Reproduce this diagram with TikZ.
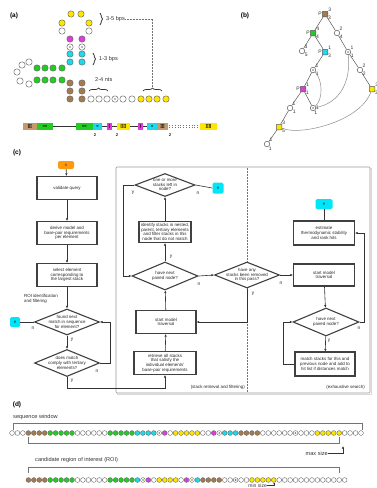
\documentclass[tikz,border=0pt]{standalone}
\usepackage{fontspec}
\setmainfont{Liberation Sans}
\usetikzlibrary{shapes.geometric,arrows.meta,decorations.pathreplacing,calc}
\definecolor{cyel}{HTML}{FFE600}
\definecolor{cmag}{HTML}{E03CDC}
\definecolor{ccya}{HTML}{1ED8EC}
\definecolor{cgrn}{HTML}{22CC22}
\definecolor{cbrn}{HTML}{A47A4E}
\definecolor{ctan}{HTML}{C49A6C}
\definecolor{corg}{HTML}{FF9A10}
\definecolor{cecy}{HTML}{00E6F8}
\begin{document}
\begin{tikzpicture}[x=1pt,y=-1pt,
  fc/.style={font=\fontsize{4.4}{4.6}\selectfont, align=center, inner sep=0pt, text=black!85},
  box/.style={fc, draw=black!75, line width=1.1pt, fill=white},
  dia/.style={diamond, draw=black!75, line width=1.1pt, fill=white, inner sep=0pt},
  startn/.style={fc, fill=corg, rounded corners=2pt, minimum width=16pt, minimum height=8pt},
  endn/.style={fc, fill=cecy, rounded corners=1.5pt, minimum width=10pt, minimum height=10pt},
  arr/.style={draw=black!80, line width=0.6pt, -{Latex[length=2.6pt,width=2.4pt]}},
  ln/.style={draw=black!80, line width=0.6pt},
  yn/.style={font=\fontsize{4.8}{5}\selectfont, inner sep=0pt, text=black!85},
  pl/.style={font=\bfseries\fontsize{6.5}{7}\selectfont, inner sep=0pt},
  an/.style={font=\fontsize{5.6}{6}\selectfont, text=black!80, inner sep=0pt},
  pd/.style={draw=black!60, line width=0.45pt},
  sd/.style={draw=black!60, line width=0.4pt},
  dw/.style={fill=white}, db/.style={fill=cbrn}, dg/.style={fill=cgrn},
  dc/.style={fill=ccya}, dm/.style={fill=cmag}, dy/.style={fill=cyel},
  dx/.style={fill=white, path picture={\fill[black!55] (path picture bounding box.center) circle (0.9pt);}},
  sb/.style={inner sep=0pt, minimum height=6.5pt, font=\bfseries\fontsize{4.2}{4.5}\selectfont},
  tw/.style={circle, draw=black!65, fill=white, line width=0.5pt, minimum size=5.5pt, inner sep=0pt},
  tx/.style={tw, path picture={\fill[black!55] (path picture bounding box.center) circle (0.8pt);}},
  tp/.style={rectangle, rounded corners=0.8pt, draw=black!65, line width=0.5pt, minimum size=5.5pt, inner sep=0pt},
  tl/.style={font=\fontsize{5}{5.2}\selectfont, inner sep=0.3pt, text=black!80, label distance=-0.3pt},
  tln/.style={draw=black!65, line width=0.5pt},
  arc/.style={draw=black!45, line width=0.5pt},
  brk/.style={draw=black!55, line width=0.6pt}
]
\useasboundingbox (0,0) rectangle (377,488);
\fill[white] (0,0) rectangle (377,488);

% ---------- panel labels
\node[pl] (la) at (14,16) {(a)};
\node[pl] (lb) at (245,16) {(b)};
\node[pl] (lc) at (17,153) {(c)};
\node[pl] (ld) at (17,405) {(d)};

% ---------- panel (a) structure
\foreach \p in {(71,14),(81,14),(62,23),(89,23),(141,99),(149,99),(157,99),(166,99)}
  \draw[pd,fill=cyel] \p circle (3.2pt);
\foreach \p in {(62,31),(89,31),(29,62),(22,65),(17,72),(20,81),(29,84),(91,99),(99,99),(107,99),(123,99),(132,99)}
  \draw[pd,fill=white] \p circle (3.2pt);
\foreach \p in {(70,39),(82,39)} \draw[pd,fill=cmag] \p circle (3.2pt);
\foreach \p in {(70,47),(82,47),(115,99)} \draw[pd,dx] \p circle (3.2pt);
\foreach \p in {(70,54),(82,54),(70,62),(82,62)} \draw[pd,fill=ccya] \p circle (3.2pt);
\foreach \p in {(37,68),(45,68),(53,68),(62,68),(37,80),(45,80),(53,80),(62,80)} \draw[pd,fill=cgrn] \p circle (3.2pt);
\foreach \p in {(70,83),(82,83),(70,91),(82,91),(70,99),(82,99)} \draw[pd,fill=cbrn] \p circle (3.2pt);

\draw[decorate, decoration={brace, amplitude=2.5pt}, line width=0.7pt, black!80] (100,13) -- (100,25);
\draw[decorate, decoration={brace, amplitude=2.5pt}, line width=0.7pt, black!80] (93,53) -- (93,65);
\draw[decorate, decoration={brace, amplitude=3pt}, line width=0.7pt, black!80] (89,91) -- (108,91);
\draw[decorate, decoration={brace, amplitude=3pt}, line width=0.7pt, black!80] (143,91) -- (162,91);
\node[an, anchor=west] (t35) at (106,19) {3-5 bps};
\node[an, anchor=west] (t13) at (99,59) {1-3 bps};
\node[an, anchor=west] (t24) at (95,80) {2-4 nts};
\coordinate (brtip) at (152.5,87);
\draw[densely dotted, black!55, line width=0.5pt] (t35.east) -- (brtip |- t35.east) -- (brtip);

% sequence bar
\node[sb, fill=ctan, minimum width=14pt] (sb1) at (30,126.5) {[[[};
\node[sb, fill=cgrn, minimum width=16pt] (sb2) at (45,126.5) {<<<<};
\node[sb, fill=cgrn, minimum width=17pt] (sb3) at (84.5,126.5) {>>>>};
\node[sb, fill=ccya, minimum width=9pt] (sb4) at (97.5,126.5) {<<};
\node[sb, fill=cmag, minimum width=5pt] (sb5) at (109.5,126.5) {\{};
\node[sb, fill=cyel, minimum width=13pt] (sb6) at (123.5,126.5) {[[[[};
\node[sb, fill=cmag, minimum width=5pt] (sb7) at (140.5,126.5) {\}};
\node[sb, fill=ccya, minimum width=10pt] (sb8) at (152,126.5) {>>};
\node[sb, fill=ctan, minimum width=11pt] (sb9) at (162.5,126.5) {]]]};
\node[sb, fill=cyel, minimum width=17pt] (sb10) at (208.5,126.5) {]]]]};
\draw[ln, line width=0.5pt] (sb2.east) -- (sb3.west);
\draw[ln, line width=0.5pt] (sb4.east) -- (sb5.west);
\draw[ln, line width=0.5pt] (sb5.east) -- (sb6.west);
\draw[ln, line width=0.5pt] (sb6.east) -- (sb7.west);
\draw[ln, line width=0.5pt] (sb7.east) -- (sb8.west);
\draw[black!55, line width=0.8pt, dash pattern=on 0.8pt off 2pt] ($(sb9.east)+(1,-1.3)$) -- ($(sb10.west)+(-1,-1.3)$);
\draw[black!55, line width=0.8pt, dash pattern=on 0.8pt off 2pt] ($(sb9.east)+(1,1.3)$) -- ($(sb10.west)+(-1,1.3)$);
\node[yn, font=\bfseries\fontsize{4.2}{4.5}\selectfont] (n2a) at (95,135) {2};
\node[yn, font=\bfseries\fontsize{4.2}{4.5}\selectfont] (n2b) at (117,135) {2};
\node[yn, font=\bfseries\fontsize{4.2}{4.5}\selectfont] (n2c) at (170,135) {2};

% ---------- panel (b) tree
\node[tp, fill=cbrn, label={[tl]35:3}, label={[tl]-30:3}, label={[tl]180:P}] (R) at (325,14) {};
\node[tp, fill=cgrn, label={[tl]35:4}, label={[tl]-30:4}, label={[tl]180:P}] (G) at (313,33) {};
\node[tw, label={[tl]35:2}, label={[tl]-30:4}] (W1) at (337,33) {};
\node[tw, label={[tl]35:3}, label={[tl]-30:5}] (W2) at (302,51) {};
\node[tp, fill=ccya, label={[tl]35:1}, label={[tl]-30:3}, label={[tl]180:P}] (C) at (325,52) {};
\node[tx, label={[tl]35:1}, label={[tl]-30:1}] (X1) at (348,52) {};
\node[tw, label={[tl]35:2}, label={[tl]-30:2}] (W3) at (360,70) {};
\node[tp, fill=cyel, label={[tl]35:3}, label={[tl]-30:3}] (Y1) at (372,89) {};
\node[tx, label={[tl]35:1}, label={[tl]-30:1}] (X2) at (313,70) {};
\node[tp, fill=cmag, label={[tl]35:1}, label={[tl]-30:1}, label={[tl]180:P}] (M) at (303,89) {};
\node[tw, label={[tl]35:1}, label={[tl]-30:1}] (W4) at (290,108) {};
\node[tx, label={[tl]0:1}, label={[tl]-70:1}] (X3) at (313,108) {};
\node[tp, fill=cyel, label={[tl]35:3}, label={[tl]-30:5}] (Y2) at (279,127) {};
\node[tw, label={[tl]35:1}, label={[tl]-60:1}] (W5) at (267,144) {};
\draw[tln] (R) -- (G); \draw[tln] (R) -- (W1); \draw[tln] (W1) -- (X1);
\draw[tln] (X1) -- (W3); \draw[tln] (W3) -- (Y1);
\draw[tln] (G) -- (W2); \draw[tln] (G) -- (C); \draw[tln] (C) -- (X2);
\draw[tln] (X2) -- (M); \draw[tln] (M) -- (W4); \draw[tln] (W4) -- (Y2);
\draw[tln] (Y2) -- (W5); \draw[tln] (M) -- (X3);
\draw[arc] (X2) .. controls (323,80) and (323,100) .. (X3);
\draw[arc] (X1) .. controls (351,80) and (341,103) .. (X3);
\draw[arc] (Y1) .. controls (360,122) and (300,136) .. (Y2);

% ---------- panel (c) flowchart
\draw[black!15, line width=1.4pt] (117.5,168.5) rectangle (371.5,394.5);
\draw[black!40, line width=0.6pt, fill=white, rounded corners=1pt] (116,167) rectangle (370,393);
\draw[black!55, line width=0.5pt, densely dotted] (247,167.5) -- (247,392.5);

% left column
\node[startn] (s) at (66,165) {s};
\node[box, minimum width=60pt, minimum height=23pt] (val) at (67,188) {validate query};
\node[box, minimum width=60pt, minimum height=23pt] (der) at (67,233) {derive model and\\base-pair requirements\\per element};
\node[box, minimum width=60pt, minimum height=23pt] (sel) at (67,275) {select element\\corresponding to\\the largest stack};
\node[fc, anchor=west, align=left] (roi) at (24,299) {ROI identification\\and filtering};
\node[dia, minimum width=65pt, minimum height=26pt] (d1) at (67,322) {};
\node[fc] (d1t) at (d1) {found next\\match in sequence\\for element?};
\node[endn] (e1) at (15,322) {e};
\node[dia, minimum width=65pt, minimum height=27pt] (d2) at (67,363) {};
\node[fc] (d2t) at (d2) {does match\\comply with tertiary\\elements?};

% middle column
\node[dia, minimum width=60pt, minimum height=23pt] (d3) at (165,185) {};
\node[fc] (d3t) at (d3) {one or more\\stacks left in\\node?};
\node[endn, minimum width=11pt, minimum height=11pt] (e2) at (218,188) {e};
\node[box, minimum width=52pt, minimum height=21pt] (idf) at (165,232) {identify stacks in nested,\\parent, tertiary elements\\and filter stacks in this\\node that do not match};
\node[dia, minimum width=66pt, minimum height=28pt] (d4) at (165,276) {};
\node[fc] (d4t) at (d4) {have next\\paired node?};
\node[dia, minimum width=65pt, minimum height=26pt] (d5) at (247,275) {};
\node[fc] (d5t) at (d5) {have any\\stacks been removed\\in this pass?};
\node[box, minimum width=60pt, minimum height=23pt] (st1) at (166,322) {start model\\traversal};
\node[box, minimum width=62pt, minimum height=23pt] (ret) at (165,363) {retrieve all stacks\\that satisfy the\\individual elements'\\base-pair requirements};
\node[fc, anchor=east] (lab1) at (245,387) {(stack retrieval and filtering)};

% right column
\node[endn, minimum width=17pt, minimum height=10pt] (e3) at (324,204) {e};
\node[box, minimum width=61pt, minimum height=24pt] (est) at (324,233) {estimate\\thermodynamic stability\\and rank hits};
\node[box, minimum width=61pt, minimum height=22pt] (st2) at (324,275) {start model\\traversal};
\node[dia, minimum width=66pt, minimum height=28pt] (d6) at (326,322) {};
\node[fc] (d6t) at (d6) {have next\\paired node?};
\node[box, minimum width=60pt, minimum height=24pt] (mat) at (325,364) {match stacks for this and\\previous node and add to\\hit list if distances match};
\node[fc, anchor=east] (lab2) at (365,387) {(exhaustive search)};

% connectors left
\draw[arr] (s) -- (val);
\draw[arr] (val) -- (der);
\draw[arr] (der) -- (sel);
\draw[arr] (sel) -- (d1);
\draw[ln] (d1.west) -- (e1.east);
\draw[arr] (d1.south) -- (d2.north);
\draw[arr] (d2.east) -- (110,363) -- (110,322) -- (d1.east);
\draw[arr] (d2.south) -- (67,388) -- (ret.south |- 0,388) -- (ret.south);
\node[yn] (n1) at (33,328) {n};
\node[yn] (y1) at (72,340) {y};
\node[yn] (n2) at (97,371) {n};
\node[yn] (y2) at (72,381) {y};

% connectors middle
\draw[arr] (ret) -- (st1);
\draw[arr] (st1) -- (d4);
\draw[arr] (d4) -- (idf);
\draw[arr] (idf) -- (d3);
\draw[ln] (d3.east) -- (e2.west);
\draw[arr] (d3.west) -- (123,185) -- (123,276) -- (d4.west);
\draw[arr] (d4.east) -- (d5.west);
\draw[arr] (d5.east) -- (st2.west);
\draw[arr] (d5.south) -- (247,322) -- (st1.east);
\node[yn] (y3) at (133,193) {y};
\node[yn] (n3) at (198,193) {n};
\node[yn] (y4) at (171,257) {y};
\node[yn] (n4) at (199,284) {n};
\node[yn] (n5) at (281,283) {n};
\node[yn] (y5) at (253,294) {y};

% connectors right
\draw[ln] (e3) -- (est);
\draw[arr] (st2) -- (d6);
\draw[arr] (d6) -- (mat);
\draw[arr] (mat.west) -- (283,364) -- (283,322) -- (d6.west);
\draw[arr] (d6.east) -- (364,322) -- (364,233) -- (est.east);
\node[yn] (y6) at (329,341) {y};
\node[yn] (n6) at (359,328) {n};

% ---------- panel (d)
\node[an, anchor=west] (sw) at (13,417) {sequence window};
\draw[brk] (13,430) -- (13,423) -- (362,423) -- (362,430);
\foreach \c [count=\i from 0] in {dw,dw,dw,db,db,db,db,dg,dg,dg,dg,dg,dw,dw,dw,dw,dw,dw,dg,dg,dg,dg,dg,dc,dc,dc,dc,dx,dm,dw,dy,dy,dy,dy,dy,dw,dw,dm,dx,dc,dc,dc,db,db,db,db,dw,dw,dw,dw,dw,dw,dx,dw,dw,dw,dy,dy,dy,dy,dy,dw,dw,dw,dw}
  \draw[sd,\c] ({12+5.453*\i},433) circle (2.4pt);
\draw[brk] (28.4,437) -- (28.4,443) -- (339,443) -- (339,437);
\node[an, anchor=west] (roit) at (35,460) {candidate region of interest (ROI)};
\draw[brk] (28.4,473) -- (28.4,467) -- (339,467) -- (339,473);
\foreach \c [count=\i from 0] in {db,db,db,db,dg,dg,dg,dg,dg,dw,dw,dw,dw,dw,dw,dg,dg,dg,dg,dg,dc,dx,dm,dw,dy,dy,dy,dy,dw,dm,dx,dc,db,db,db,db,dw,dw,dx,dw,dw,dy,dy,dy,dy,dy,dw,dw,dw,dw,dw,dw,dw,dw,dw,dw,dw,dw,dw}
  \draw[sd,\c] ({28.4+5.453*\i},480) circle (2.4pt);
\node[an, anchor=east] (maxs) at (328,453) {max size};
\coordinate (maxpt) at (343,446);
\draw[arr] (maxs.east) -| (maxpt);
\node[an, anchor=east, font=\fontsize{5}{5.2}\selectfont] (mins) at (267,485.3) {min size};
\coordinate (minpt) at (274,483.2);
\draw[draw=black!80, line width=0.6pt] (mins.east) -| (minpt);
\fill[black!80] (minpt) ++(-1.2,0.9) -- (minpt) -- ++(1.2,0.9) -- cycle;
\end{tikzpicture}
\end{document}
